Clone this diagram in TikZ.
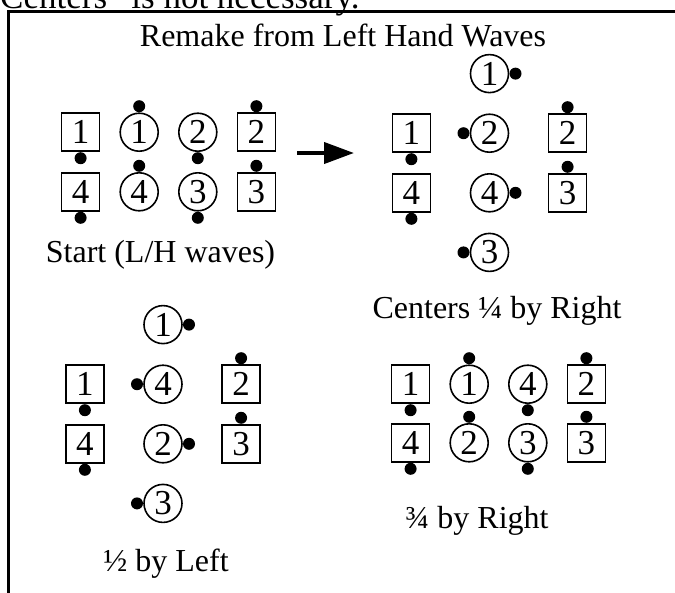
\documentclass[tikz,border=0pt]{standalone}
\usepackage{fontspec}
\setmainfont{Liberation Serif}
\usetikzlibrary{positioning,arrows.meta}

\begin{document}
\begin{tikzpicture}[x=1pt,y=-1pt,
			every node/.style={font=\fontsize{32}{36}\selectfont,inner sep=0pt},
			gent/.style={draw,rectangle,line width=1.6pt,minimum size=38pt,font=\fontsize{35}{40}\selectfont},
			lady/.style={draw,circle,line width=1.6pt,minimum size=38pt,font=\fontsize{35}{40}\selectfont},
			nub/.style={fill,circle,minimum width=12pt,minimum height=12pt,overlay},
			facenorth/.style={label={[nub]above:{}}},
			facesouth/.style={label={[nub]below:{}}},
			faceeast/.style={label={[nub]right:{}}},
			facewest/.style={label={[nub]left:{}}}]
			\useasboundingbox (0,0) rectangle (675,592);
			\node (note) [anchor=base west,font=\fontsize{35}{40}\selectfont] at (0,8) {Centers” is not necessary.};
			\draw [line width=3pt] (8.5,620) |- (700,11.5);
			\node (title) [anchor=base] at (343,46) {Remake from Left Hand Waves};

			\matrix (st) at (168.5,162) [row sep=20pt,column sep=19pt] {
				\node (st-b1) [gent,facesouth] {1};
				&
				\node (st-g1) [lady,facenorth] {1};
				&
				\node (st-g2) [lady,facesouth] {2};
				&
				\node (st-b2) [gent,facenorth] {2};
				\\
				\node (st-b4) [gent,facesouth] {4};
				&
				\node (st-g4) [lady,facenorth] {4};
				&
				\node (st-g3) [lady,facesouth] {3};
				&
				\node (st-b3) [gent,facenorth] {3};
				\\
			};
			\node (st-cap) [below=28pt of st,xshift=-8pt] {Start (L/H waves)};

			\coordinate (go) at (297,153);
			\coordinate (stop) at (354,153);
			\draw [line width=4pt,-{Triangle[length=30pt,width=21pt]}] (go) -- (stop);

			\matrix (qr) at (489.5,163) [row sep=20pt,column sep=38.5pt] {
				&
				\node (qr-g1) [lady,faceeast] {1};
				&
				\\
				\node (qr-b1) [gent,facesouth] {1};
				&
				\node (qr-g2) [lady,facewest] {2};
				&
				\node (qr-b2) [gent,facenorth] {2};
				\\
				\node (qr-b4) [gent,facesouth] {4};
				&
				\node (qr-g4) [lady,faceeast] {4};
				&
				\node (qr-b3) [gent,facenorth] {3};
				\\
				&
				\node (qr-g3) [lady,facewest] {3};
				&
				\\
			};
			\node (qr-cap) [below=24pt of qr,xshift=7.5pt] {Centers ¼ by Right};

			\matrix (hl) at (163,414) [row sep=20pt,column sep=38.5pt] {
				&
				\node (hl-g1) [lady,faceeast] {1};
				&
				\\
				\node (hl-b1) [gent,facesouth] {1};
				&
				\node (hl-g4) [lady,facewest] {4};
				&
				\node (hl-b2) [gent,facenorth] {2};
				\\
				\node (hl-b4) [gent,facesouth] {4};
				&
				\node (hl-g2) [lady,faceeast] {2};
				&
				\node (hl-b3) [gent,facenorth] {3};
				\\
				&
				\node (hl-g3) [lady,facewest] {3};
				&
				\\
			};
			\node (hl-cap) [below=25pt of hl,xshift=3pt] {½ by Left};

			\matrix (tq) at (498.5,413.5) [row sep=19pt,column sep=19pt] {
				\node (tq-b1) [gent,facesouth] {1};
				&
				\node (tq-g1) [lady,facenorth] {1};
				&
				\node (tq-g4) [lady,facesouth] {4};
				&
				\node (tq-b2) [gent,facenorth] {2};
				\\
				\node (tq-b4) [gent,facesouth] {4};
				&
				\node (tq-g2) [lady,facenorth] {2};
				&
				\node (tq-g3) [lady,facesouth] {3};
				&
				\node (tq-b3) [gent,facenorth] {3};
				\\
			};
			\node (tq-cap) [below=43pt of tq,xshift=-21.5pt] {¾ by Right};
		\end{tikzpicture}
\end{document}
